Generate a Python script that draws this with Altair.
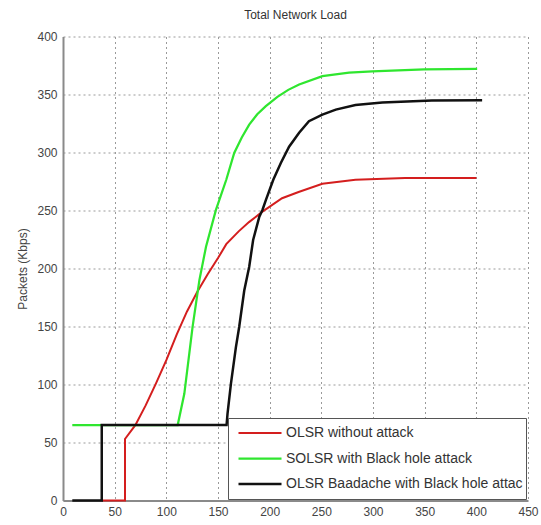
import altair as alt
import pandas as pd

# Series names, in legend order
names = [
    "OLSR without attack",
    "SOLSR with Black hole attack",
    "OLSR Baadache with Black hole attack",
]
colors = ["#d41e1e", "#2fe62f", "#111111"]
widths = [2.0, 2.5, 3.0]

# OLSR without attack
red_t = [37.5, 60, 60, 70, 80, 90, 100, 110, 120, 130, 140, 150, 158,
         170, 180, 193, 212, 228, 251, 283, 331, 400]
red_v = [0, 0, 53, 65, 82, 101, 121, 143, 163, 180, 195, 209, 221,
         232, 240, 249, 260.6, 266, 273, 276.5, 278, 278]

# SOLSR with Black hole attack
green_t = [9, 111, 117.4, 125.4, 132, 138.4, 148, 158, 165.7, 173, 180.2,
           188, 196.3, 207.5, 218, 228.5, 251, 276.8, 299.3, 349.6, 400.8]
green_v = [65, 65, 92, 149.6, 190, 218.8, 250.5, 276.5, 299.6, 313, 324,
           333, 340, 348, 354, 358.6, 365.8, 368.8, 370, 371.6, 372]

# OLSR Baadache with Black hole attack
black_t = [9, 37.5, 37.5, 158.3, 159.2, 162.5, 167.3, 170.5, 175.4, 180.2, 184,
           190, 193, 196.3, 203.5, 210.8, 218.8, 228.5, 238, 251, 264, 283,
           309, 357, 405.6]
black_v = [0, 0, 65, 65, 74.6, 100.6, 132, 149.6, 181, 201.5, 224.6,
           244.7, 250.5, 259, 276.5, 291, 305, 317, 327, 332.7, 337, 341,
           343, 344.8, 345]

rows = []
for name, ts, vs in zip(names, [red_t, green_t, black_t], [red_v, green_v, black_v]):
    for i, (t, v) in enumerate(zip(ts, vs)):
        rows.append({"series": name, "t": t, "v": v, "i": i})
df = pd.DataFrame(rows)

FONT = "Liberation Sans"
GRID = dict(grid=True, gridColor="#9a9a9a", gridDash=[2, 3], gridWidth=1)
AXIS = dict(ticks=False, labelFont=FONT, labelFontSize=12, labelColor="#444",
            domainColor="#8a8a8a", domainWidth=2, labelFlush=False)

chart = alt.Chart(df).mark_line(interpolate="linear").encode(
    x=alt.X(
        "t:Q",
        scale=alt.Scale(domain=[0, 450], nice=False),
        axis=alt.Axis(values=list(range(0, 451, 50)), title=None,
                      labelPadding=6, **AXIS, **GRID),
    ),
    y=alt.Y(
        "v:Q",
        scale=alt.Scale(domain=[0, 400], nice=False),
        axis=alt.Axis(
            values=list(range(0, 401, 50)), title="Packets (Kbps)",
            labelPadding=6, titleFont=FONT, titleFontSize=12,
            titleFontWeight="normal", titleColor="#444", titlePadding=7,
            **AXIS, **GRID,
        ),
    ),
    color=alt.Color(
        "series:N",
        scale=alt.Scale(domain=names, range=colors),
        legend=alt.Legend(
            title=None, orient="none", legendX=165, legendY=381.5,
            symbolType="stroke", symbolSize=1849, symbolStrokeWidth=3,
            symbolOffset=6, labelOffset=3, clipHeight=24, rowPadding=1.5,
            padding=3, labelFont=FONT, labelFontSize=14, labelColor="#333",
            labelLimit=400, strokeColor="#555555", fillColor="white",
            # the legend box cuts off the end of the longest label
            labelExpr="slice(datum.label, 0, 35)",
        ),
    ),
    strokeWidth=alt.StrokeWidth(
        "series:N", scale=alt.Scale(domain=names, range=widths), legend=None
    ),
    order=alt.Order("i:Q"),
).properties(
    width=465,
    height=464,
    title=alt.TitleParams(
        "Total Network Load", font=FONT, fontSize=12, fontWeight="normal",
        color="#333", offset=9,
    ),
    padding={"left": 63, "top": 36.5, "right": 13, "bottom": 24.5},
    autosize=alt.AutoSizeParams(type="none"),
).configure_view(stroke=None)

chart.save("out.html", embed_options={"renderer": "svg", "actions": False})
